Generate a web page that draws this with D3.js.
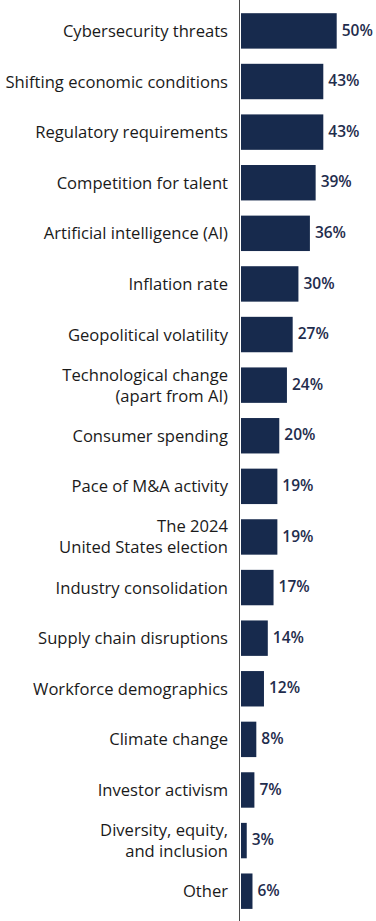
<!DOCTYPE html>
<html>
<head>
<meta charset="utf-8">
<script src="https://cdn.jsdelivr.net/npm/d3@7"></script>
<style>
	html, body { margin: 0; padding: 0; background: #fff; }
	svg { display: block; }
</style>
</head>
<body>
<div id="chart"></div>
<script>
// categories (\n marks a line break in the label)
var categories = [
	"Cybersecurity threats",
	"Shifting economic conditions",
	"Regulatory requirements",
	"Competition for talent",
	"Artificial intelligence (AI)",
	"Inflation rate",
	"Geopolitical volatility",
	"Technological change\n(apart from AI)",
	"Consumer spending",
	"Pace of M&A activity",
	"The 2024\nUnited States election",
	"Industry consolidation",
	"Supply chain disruptions",
	"Workforce demographics",
	"Climate change",
	"Investor activism",
	"Diversity, equity,\nand inclusion",
	"Other"
];
var values = [50, 43, 43, 39, 36, 30, 27, 24, 20, 19, 19, 17, 14, 12, 8, 7, 3, 6];

var width = 376,
	height = 921,
	x0 = 241,
	barColor = "#172a4d";

var data = categories.map(function(c, i) { return { name: c, value: values[i] }; });

var svg = d3.select("#chart").append("svg")
	.attr("width", width)
	.attr("height", height);

var x = d3.scaleLinear()
	.domain([0, 50])
	.range([x0, x0 + 95.7]);

var y = d3.scaleBand()
	.domain(categories)
	.range([13.2, 13.2 + 50.6 * 17 + 35.5])
	.paddingInner(0.3)
	.paddingOuter(0);

svg.append("g")
	.selectAll("rect")
	.data(data)
	.join("rect")
	.attr("x", x(0))
	.attr("y", function(d) { return y(d.name); })
	.attr("width", function(d) { return x(d.value) - x(0); })
	.attr("height", y.bandwidth())
	.attr("fill", barColor);

// vertical axis line
svg.append("line")
	.attr("x1", x0 - 1.5).attr("x2", x0 - 1.5)
	.attr("y1", 0).attr("y2", height)
	.attr("stroke", "#4a4a4a")
	.attr("stroke-width", 1);

// value labels
svg.append("g")
	.selectAll("text")
	.data(data)
	.join("text")
	.attr("x", function(d) { return x(d.value) + 5; })
	.attr("y", function(d) { return y(d.name) + y.bandwidth() / 2; })
	.attr("dy", "0.3em")
	.style("font", "600 15.5px 'Open Sans', sans-serif")
	.attr("fill", "#1f2d4d")
	.text(function(d) { return d.value + "%"; });

// category labels
var lab = svg.append("g")
	.selectAll("text")
	.data(data)
	.join("text")
	.attr("text-anchor", "end")
	.attr("x", 228)
	.attr("y", function(d) { return y(d.name) + y.bandwidth() / 2; })
	.style("font", "16.6px 'Open Sans', sans-serif")
	.attr("fill", "#1a1a1a");

lab.each(function(d) {
	var lines = d.name.split("\n"),
		t = d3.select(this),
		lh = 21,
		off = -(lines.length - 1) * lh / 2;
	lines.forEach(function(l, k) {
		t.append("tspan")
			.attr("x", 228)
			.attr("dy", k == 0 ? (off + 6) + "px" : lh + "px")
			.text(l);
	});
});
</script>
</body>
</html>
